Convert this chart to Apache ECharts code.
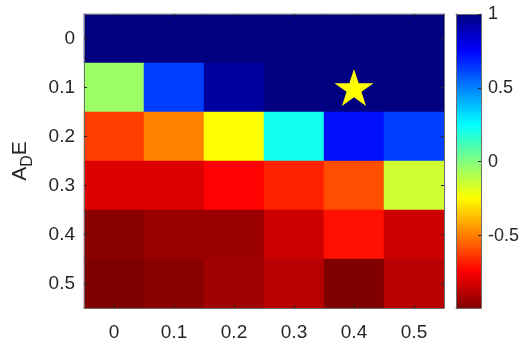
<!DOCTYPE html>
<html>
<head>
<meta charset="utf-8">
<script src="https://cdn.jsdelivr.net/npm/echarts@6/dist/echarts.min.js"></script>
<style>
html,body{margin:0;padding:0;background:#fff;}
#main{width:524px;height:344px;}
</style>
</head>
<body>
<div id="main"></div>
<script>
// Column categories (x) and row categories (y, A_D E)
var xCats = ['0', '0.1', '0.2', '0.3', '0.4', '0.5'];
var yCats = ['0', '0.1', '0.2', '0.3', '0.4', '0.5'];
// Cell values, one array per row (row = A_D E value)
var row0 = [1.00, 1.00, 1.00, 1.00, 1.00, 1.00];
var row1 = [-0.05, 0.63, 0.94, 1.00, 1.00, 1.00];
var row2 = [-0.62, -0.49, -0.24, 0.22, 0.72, 0.63];
var row3 = [-0.81, -0.81, -0.74, -0.68, -0.59, -0.15];
var row4 = [-0.97, -0.94, -0.94, -0.84, -0.71, -0.84];
var row5 = [-0.99, -0.97, -0.93, -0.88, -0.99, -0.88];
var rows = [row0, row1, row2, row3, row4, row5];
// Marked optimum (star)
var starPoint = ['0.4', '0.1'];
// Colour scale
var cMin = -0.99, cMax = 1;
var cbTicks = [-0.5, 0, 0.5, 1];
var jetReversed = ['#800000', '#ff0000', '#ff8000', '#ffff00', '#80ff80', '#00ffff', '#0080ff', '#0000ff', '#000080'];

var heatData = [];
rows.forEach(function (r, yi) {
  r.forEach(function (v, xi) { heatData.push([xi, yi, v]); });
});

var chart = echarts.init(document.getElementById('main'), null, {renderer: 'canvas'});
var axisColor = '#262626';
var boxColor = '#6e6e6e';
var font = 'Arial, "Liberation Sans", Helvetica, sans-serif';
var starPath = 'path://M50,0 L61.8,35.1 L98.9,35.1 L68.8,56.8 L80.2,91.9 L50,70.2 L19.8,91.9 L31.2,56.8 L1.1,35.1 L38.2,35.1 Z';

var catAxisCommon = {
  type: 'category',
  axisLine: {show: true, onZero: false, lineStyle: {color: boxColor, width: 1}},
  axisTick: {show: true, inside: true, length: 3, alignWithLabel: true, lineStyle: {color: axisColor}},
  splitLine: {show: false},
  z: 10
};

chart.setOption({
  animation: false,
  backgroundColor: '#fff',
  grid: [
    {left: 84, top: 14, width: 360, height: 294},
    {left: 456, top: 14, width: 25, height: 294}
  ],
  xAxis: [
    Object.assign({}, catAxisCommon, {
      gridIndex: 0, position: 'bottom', data: xCats,
      axisLabel: {color: axisColor, fontSize: 19, fontFamily: font, margin: 15}
    }),
    Object.assign({}, catAxisCommon, {
      gridIndex: 0, position: 'top', data: xCats, axisLabel: {show: false}
    }),
    {
      type: 'value', gridIndex: 1, min: 0, max: 1, show: true,
      axisLine: {show: true, onZero: false, lineStyle: {color: boxColor}},
      axisTick: {show: false}, axisLabel: {show: false}, splitLine: {show: false}, z: 10
    },
    {
      type: 'value', gridIndex: 1, min: 0, max: 1, position: 'top', show: true,
      axisLine: {show: true, onZero: false, lineStyle: {color: boxColor}},
      axisTick: {show: false}, axisLabel: {show: false}, splitLine: {show: false}, z: 10
    }
  ],
  yAxis: [
    Object.assign({}, catAxisCommon, {
      gridIndex: 0, position: 'left', data: yCats, inverse: true,
      axisLabel: {color: axisColor, fontSize: 19, fontFamily: font, margin: 9},
      name: '{a|A}{d|D}{a|E}',
      nameLocation: 'middle', nameRotate: 90, nameGap: 50,
      nameTextStyle: {
        color: axisColor, fontFamily: font,
        rich: {
          a: {fontSize: 21, fontFamily: font, color: axisColor, lineHeight: 24, verticalAlign: 'top'},
          d: {fontSize: 16, fontFamily: font, color: axisColor, lineHeight: 24, verticalAlign: 'top', padding: [10, 0, 0, 0]}
        }
      }
    }),
    Object.assign({}, catAxisCommon, {
      gridIndex: 0, position: 'right', data: yCats, inverse: true, axisLabel: {show: false}
    }),
    {
      type: 'value', gridIndex: 1, min: cMin, max: cMax, position: 'right',
      axisLine: {show: true, onZero: false, lineStyle: {color: boxColor}},
      axisTick: {show: true, inside: true, length: 3, customValues: cbTicks, lineStyle: {color: axisColor}},
      axisLabel: {color: axisColor, fontSize: 18, fontFamily: font, margin: 7, customValues: cbTicks,
        formatter: function (v) { return String(v); }},
      splitLine: {show: false}, z: 10
    },
    {
      type: 'value', gridIndex: 1, min: cMin, max: cMax, position: 'left',
      axisLine: {show: true, onZero: false, lineStyle: {color: boxColor}},
      axisTick: {show: false}, axisLabel: {show: false}, splitLine: {show: false}, z: 10
    }
  ],
  visualMap: {
    show: false, type: 'continuous', seriesIndex: 0, dimension: 2,
    min: cMin, max: cMax, inRange: {color: jetReversed}
  },
  series: [
    {
      type: 'heatmap', xAxisIndex: 0, yAxisIndex: 0, data: heatData,
      itemStyle: {borderWidth: 0}, emphasis: {disabled: true}
    },
    {
      type: 'scatter', xAxisIndex: 0, yAxisIndex: 0, data: [starPoint],
      symbol: starPath, symbolSize: [39, 37],
      itemStyle: {color: '#ffff00', opacity: 1}, z: 5
    },
    {
      type: 'custom', xAxisIndex: 2, yAxisIndex: 2, data: [[0, cMin, 1, cMax]],
      renderItem: function (params, api) {
        var p0 = api.coord([api.value(0), api.value(3)]);
        var p1 = api.coord([api.value(2), api.value(1)]);
        var stops = jetReversed.map(function (c, i) {
          return {offset: i / (jetReversed.length - 1), color: c};
        });
        return {
          type: 'rect',
          shape: {x: p0[0], y: p0[1], width: p1[0] - p0[0], height: p1[1] - p0[1]},
          style: {fill: new echarts.graphic.LinearGradient(0, 1, 0, 0, stops)}
        };
      }
    }
  ]
});
</script>
</body>
</html>
